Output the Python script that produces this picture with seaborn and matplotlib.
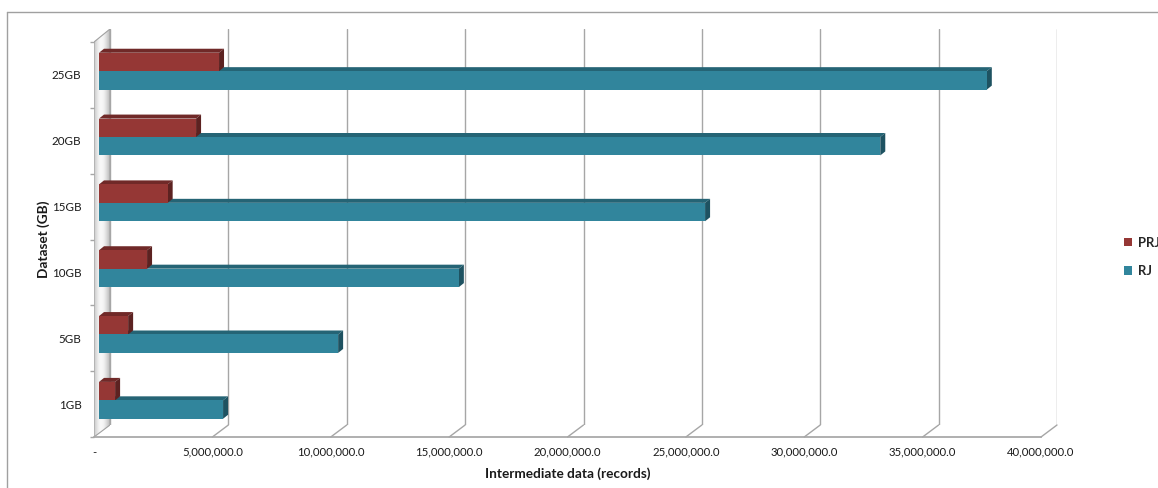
import numpy as np
import pandas as pd
import matplotlib
matplotlib.use('Agg')
import matplotlib.pyplot as plt
import seaborn as sns
from matplotlib.patches import Polygon
from matplotlib.lines import Line2D
from matplotlib.ticker import FuncFormatter, MultipleLocator
from matplotlib.colors import to_rgb

# Datos
datasets = ['25GB', '20GB', '15GB', '10GB', '5GB', '1GB']
rj = [37.5e6, 33.0e6, 25.6e6, 15.2e6, 10.1e6, 5.24e6]
prj = [5.07e6, 4.1e6, 2.9e6, 2.03e6, 1.23e6, 0.68e6]
series = ['PRJ', 'RJ']
colores = {'PRJ': '#953735', 'RJ': '#31859c'}

df = pd.DataFrame({
    'dataset': datasets * 2,
    'serie': ['PRJ'] * len(datasets) + ['RJ'] * len(datasets),
    'registros': prj + rj,
})

W, H = 1158, 488
XMAX = 40e6


def fx(x):
    return x / W


def fy(y):
    return 1 - y / H


def caja(x0, y0, x1, y1):
    # caja en píxeles (origen arriba a la izquierda) -> rect de figura
    return [fx(x0), fy(y1), fx(x1) - fx(x0), fy(y0) - fy(y1)]


sns.set_theme(style='white')
plt.rcParams['font.family'] = ['Lato', 'DejaVu Sans']
gris = '#a6a6a6'
texto = '#1a1a1a'

fig = plt.figure(figsize=(W / 100, H / 100), dpi=100)

# Borde exterior (solo arriba e izquierda visibles)
fig.add_artist(Line2D([fx(7), fx(7)], [fy(12), 0], color='#a0a0a0', lw=1, transform=fig.transFigure))
fig.add_artist(Line2D([fx(7), 1], [fy(12), fy(12)], color='#a0a0a0', lw=1, transform=fig.transFigure))

# Plano de fondo con las líneas de división
ax_fondo = fig.add_axes(caja(110, 29, 1057, 425))
ax_fondo.set_xlim(0, XMAX)
ax_fondo.xaxis.set_major_locator(MultipleLocator(5e6))
ax_fondo.grid(axis='x', color=gris, lw=1)
ax_fondo.set_yticks([])
ax_fondo.tick_params(bottom=False, labelbottom=False)
for s in ax_fondo.spines.values():
    s.set_visible(False)
ax_fondo.patch.set_alpha(0)
ax_fondo.set_zorder(0)

# Pared lateral con degradado
ax_pared = fig.add_axes(caja(94, 29, 110, 437))
ax_pared.set_xlim(94, 110)
ax_pared.set_ylim(437, 29)
ax_pared.axis('off')
pared = Polygon([(94, 437), (94, 42), (110, 29), (110, 425)], closed=True,
                facecolor='none', edgecolor='#a0a0a0', lw=0.8)
ax_pared.add_patch(pared)
grad = np.array([[0.3, 0.2, 0.1, 0.05, 0.08, 0.16, 0.26, 0.36]])
img = ax_pared.imshow(grad, cmap='Greys', vmin=0, vmax=1, extent=[94, 110, 437, 29],
                      aspect='auto', interpolation='bicubic')
img.set_clip_path(pared)
ax_pared.set_zorder(0.5)

# Plano frontal: ejes, etiquetas y suelo
ax = fig.add_axes(caja(94, 42, 1041, 437))
ax.set_xlim(0, XMAX)
ax.set_ylim(len(datasets) - 0.5, -0.5)
ax.patch.set_alpha(0)
ax.xaxis.set_major_locator(MultipleLocator(5e6))
ax.xaxis.set_major_formatter(FuncFormatter(lambda v, p: '-' if v == 0 else f'{v:,.1f}'))
ax.set_yticks(range(len(datasets)))
ax.set_yticklabels(datasets)
ax.set_yticks(np.arange(-0.5, len(datasets)), minor=True)
ax.tick_params(axis='x', length=3, color=gris, pad=4, labelsize=8.2, labelcolor=texto)
ax.tick_params(axis='y', which='major', length=0, pad=9, labelsize=8.4, labelcolor=texto)
ax.tick_params(axis='y', which='minor', length=3, color=gris, left=True)
for s in ['top', 'right', 'left']:
    ax.spines[s].set_visible(False)
ax.spines['bottom'].set_color(gris)
ax.set_xlabel('Intermediate data (records)', fontsize=9.8, fontweight='bold', labelpad=7, color=texto)
ax.set_ylabel('Dataset (GB)', fontsize=9.8, fontweight='bold', labelpad=1, color=texto)

# líneas inclinadas del suelo
dxw = 16 / 947 * XMAX
dyw = 12 / (395 / len(datasets))
for v in np.arange(5e6, XMAX + 1, 5e6):
    ax.plot([v, v + dxw], [len(datasets) - 0.5, len(datasets) - 0.5 - dyw],
            color=gris, lw=1, clip_on=False)
ax.set_zorder(1)

# Barras a media profundidad
ax_mid = fig.add_axes(caja(99, 38.25, 1046, 433.25))
sns.barplot(data=df, y='dataset', x='registros', hue='serie', order=datasets,
            hue_order=series, palette=colores, width=0.56, orient='h',
            saturation=1, linewidth=0, ax=ax_mid, zorder=3)
ax_mid.set_xlim(0, XMAX)
ax_mid.set_ylim(len(datasets) - 0.5, -0.5)
ax_mid.patch.set_alpha(0)
ax_mid.axis('off')
ax_mid.set_zorder(2)

handles, labels = ax_mid.get_legend_handles_labels()
if ax_mid.get_legend() is not None:
    ax_mid.get_legend().remove()

# Caras superior y lateral para el efecto 3D
dx = 5 / 947 * XMAX
dy = 4 / (395 / len(datasets))
for cont in reversed(ax_mid.containers):
    for bar in cont:
        x0, y0 = bar.get_x(), bar.get_y()
        w, h = bar.get_width(), bar.get_height()
        base = np.array(to_rgb(bar.get_facecolor()))
        sup = Polygon([(x0, y0), (x0 + w, y0), (x0 + w + dx, y0 - dy), (x0 + dx, y0 - dy)],
                      closed=True, facecolor=base * 0.75, edgecolor='none', zorder=2)
        lat = Polygon([(x0 + w, y0), (x0 + w, y0 + h), (x0 + w + dx, y0 + h - dy), (x0 + w + dx, y0 - dy)],
                      closed=True, facecolor=base * 0.62, edgecolor='none', zorder=2)
        ax_mid.add_patch(sup)
        ax_mid.add_patch(lat)

fig.legend(handles, labels, loc='center left', bbox_to_anchor=(fx(1124), fy(257)),
           frameon=False, borderpad=0, borderaxespad=0, handlelength=0.6, handleheight=0.6,
           handletextpad=0.45, labelspacing=1.25, prop={'weight': 'bold', 'size': 9.4})

fig.savefig('out.png', dpi=100, facecolor='white')
